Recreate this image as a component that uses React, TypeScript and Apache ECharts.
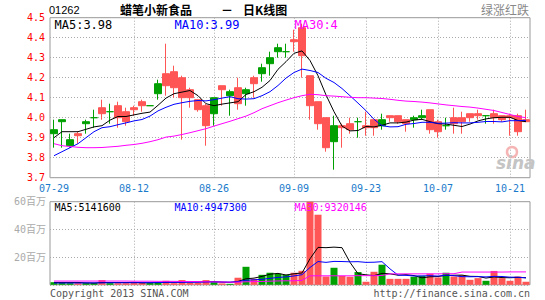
import React, { useEffect, useRef } from 'react';
import * as echarts from 'echarts';

const dates = [
  '07-29','07-30','07-31','08-01','08-02','08-05','08-06','08-07','08-08','08-09',
  '08-12','08-13','08-14','08-15','08-16','08-19','08-20','08-21','08-22','08-23',
  '08-26','08-27','08-28','08-29','08-30','09-02','09-03','09-04','09-05','09-06',
  '09-09','09-10','09-11','09-12','09-13','09-16','09-17','09-18','09-19','09-23',
  '09-24','09-25','09-26','09-27','09-30','10-02','10-03','10-04','10-07','10-08',
  '10-09','10-10','10-11','10-15','10-16','10-17','10-18','10-21','10-22','10-23',
];
const labelDates = ['07-29', '08-12', '08-26', '09-09', '09-23', '10-07', '10-21'];
const gridDates = ['08-12', '08-26', '09-09', '09-23', '10-07', '10-21'];

const opens = [
  3.92,3.98,3.86,3.92,3.97,4.00,4.05,4.03,4.06,4.03,
  4.05,4.08,4.06,4.12,4.22,4.23,4.20,4.14,4.09,4.06,
  4.02,4.16,4.11,4.15,4.12,4.20,4.22,4.27,4.33,4.33,
  4.39,4.45,4.21,4.08,4.00,3.88,3.96,3.97,3.98,3.96,
  3.99,3.96,4.01,4.01,3.99,3.99,4.00,4.04,3.98,3.96,
  4.00,4.00,4.02,4.02,4.01,4.02,4.01,4.01,4.01,3.99,
];
const closes = [
  3.94,3.99,3.89,3.91,3.98,4.00,4.02,4.03,4.00,3.98,
  4.04,4.06,4.06,4.17,4.16,4.15,4.10,4.10,4.04,3.96,
  4.10,4.14,4.13,4.07,4.14,4.17,4.25,4.30,4.35,4.33,
  4.38,4.31,4.06,3.97,3.85,3.96,3.95,3.94,3.98,3.95,
  3.95,3.99,4.00,3.98,3.97,4.00,4.01,3.94,3.93,3.96,
  3.97,3.98,4.00,4.01,4.01,4.00,3.99,4.00,3.93,3.98,
];
const lows = [
  3.85,3.85,3.85,3.87,3.92,3.95,3.99,3.97,3.95,3.96,
  4.01,4.03,4.06,4.09,4.11,4.10,3.89,4.05,4.03,3.86,
  3.96,4.06,4.01,4.04,4.06,4.10,4.18,4.21,4.30,4.30,
  4.33,4.20,3.99,3.94,3.83,3.74,3.85,3.92,3.90,3.91,
  3.91,3.94,3.98,3.97,3.93,3.95,3.99,3.92,3.90,3.94,
  3.92,3.92,3.98,3.99,3.97,3.97,3.98,3.91,3.91,3.98,
];
const highs = [
  3.99,3.99,3.92,3.93,3.99,4.04,4.09,4.07,4.08,4.05,
  4.06,4.09,4.06,4.19,4.37,4.26,4.21,4.15,4.09,4.07,
  4.10,4.16,4.14,4.20,4.15,4.21,4.27,4.33,4.37,4.37,
  4.44,4.47,4.21,4.08,4.00,4.01,3.97,4.00,4.00,4.03,
  3.99,4.02,4.01,4.01,3.99,4.01,4.04,4.04,3.99,4.00,
  4.05,4.03,4.02,4.04,4.01,4.04,4.01,4.02,4.02,4.04,
];
const ma5 = [
  3.90,3.93,3.93,3.93,3.942,3.954,3.96,3.988,4.006,4.006,
  4.014,4.022,4.028,4.062,4.098,4.12,4.128,4.136,4.11,4.07,
  4.06,4.068,4.074,4.08,4.116,4.13,4.152,4.186,4.242,4.28,
  4.322,4.334,4.286,4.21,4.114,4.03,3.958,3.934,3.936,3.956,
  3.954,3.962,3.974,3.974,3.978,3.988,3.992,3.98,3.97,3.968,
  3.962,3.956,3.968,3.984,3.994,4.0,4.002,4.002,3.986,3.98,
];
const ma10 = [
  3.81,3.83,3.85,3.87,3.90,3.93,3.95,3.955,3.965,3.974,
  3.984,3.991,4.008,4.034,4.052,4.067,4.075,4.082,4.086,4.084,
  4.09,4.098,4.105,4.095,4.093,4.095,4.11,4.13,4.161,4.198,
  4.226,4.243,4.236,4.226,4.197,4.176,4.146,4.11,4.073,4.035,
  3.992,3.96,3.954,3.955,3.967,3.971,3.977,3.977,3.972,3.973,
  3.975,3.974,3.974,3.977,3.981,3.981,3.979,3.985,3.985,3.987,
];
const ma30 = [
  3.87,3.86,3.856,3.852,3.85,3.85,3.851,3.854,3.857,3.862,
  3.866,3.872,3.88,3.89,3.903,3.908,3.916,3.925,3.935,3.945,
  3.958,3.97,3.982,3.995,4.008,4.025,4.045,4.06,4.075,4.088,
  4.10,4.11,4.117,4.115,4.11,4.108,4.105,4.102,4.10,4.10,
  4.098,4.096,4.092,4.087,4.083,4.081,4.078,4.074,4.069,4.064,
  4.06,4.056,4.053,4.048,4.042,4.036,4.026,4.016,4.006,4.0,
];

// volumes in millions
const volumes = [
  1.9,1.4,1.2,1.2,1.2,1.2,3.4,1.2,1.2,1.2,
  1.9,1.7,1.2,1.9,2.9,1.2,3.4,1.7,1.4,3.4,
  1.9,1.0,0.7,5.1,13.0,4.3,7.2,8.7,8.0,7.2,
  8.7,10.1,60,50.6,6.0,12.3,6.5,5.8,9.2,2.2,
  9.4,14.5,4.3,4.3,4.3,5.8,6.5,8.0,5.3,8.7,
  6.0,7.0,3.6,4.8,2.9,10.0,4.8,2.9,6.0,2.2,
];
const volMa5 = [
  1.7,1.7,1.7,1.7,1.38,1.24,1.64,1.64,1.64,1.64,
  1.78,1.44,1.44,1.58,1.92,1.78,2.12,2.22,2.12,2.22,
  2.36,1.88,1.68,2.42,4.34,4.82,6.06,7.66,8.24,7.08,
  7.96,8.54,18.8,27.0,26.8,27.2,26.8,16.2,8.0,7.2,
  6.62,8.22,7.92,6.94,7.36,6.64,5.04,5.78,5.98,6.86,
  6.9,7.0,6.12,6.02,4.86,5.66,5.22,5.08,5.32,5.14,
];
const volMa10 = [
  1.3,1.3,1.3,1.3,1.4,1.4,1.4,1.5,1.5,1.51,
  1.51,1.54,1.54,1.61,1.78,1.78,1.78,1.83,1.85,2.07,
  2.07,2.0,1.95,2.27,3.28,3.59,3.97,4.67,5.33,5.71,
  6.39,7.3,12.5,16.8,16.2,16.9,16.8,16.6,16.7,16.2,
  16.3,16.7,11.5,7.0,6.8,6.4,6.4,6.6,6.3,6.9,
  6.6,5.9,5.8,5.9,5.7,6.1,6.0,5.5,5.5,4.95,
];
const volMa30 = [
  2.7,2.7,2.7,2.7,2.7,2.7,2.7,2.7,2.7,2.7,
  2.6,2.6,2.6,2.5,2.5,2.5,2.4,2.4,2.3,2.2,
  2.1,2.0,1.9,1.9,2.2,2.3,2.4,2.6,2.8,2.9,
  2.9,3.2,6.5,6.5,6.5,6.5,6.5,6.5,6.6,6.6,
  6.6,6.7,7.9,7.9,7.9,7.9,7.9,7.9,7.9,8.0,
  8.0,9.2,9.2,9.2,9.2,9.2,9.2,9.3,9.3,9.32,
];

const stockCode = '01262';
const stockName = '蜡笔小新食品';
const chartKind = '日K线图';
const colorNote = '绿涨红跌';
const priceLegend = ['MA5:3.98', 'MA10:3.99', 'MA30:4'];
const volLegend = ['MA5:5141600', 'MA10:4947300', 'MA30:9320146'];

const UP = '#00a000';
const DOWN = '#ff5555';
const MONO = '"DejaVu Sans Mono", "Noto Sans CJK SC", monospace';
const CJK = '"Noto Sans CJK SC", sans-serif';

export default function App() {
  const ref = useRef<HTMLDivElement>(null);
  useEffect(() => {
    if (!ref.current) return;
    const chart = echarts.init(ref.current, undefined, { renderer: 'svg' });
    const splitX = {
      show: true,
      interval: (_i: number, v: string) => gridDates.includes(v),
      alignWithLabel: true,
      lineStyle: { color: '#aaa', type: [1, 2], width: 1 },
    };
    const lineS = (data: number[], color: string, xi: number) => ({
      type: 'line',
      xAxisIndex: xi,
      yAxisIndex: xi,
      data,
      symbol: 'none',
      showSymbol: false,
      silent: true,
      lineStyle: { color, width: 1 },
      z: 4,
    });
    const option: any = {
      animation: false,
      backgroundColor: '#fff',
      grid: [
        { left: 50, top: 17.7, width: 480, height: 160, show: true, borderColor: '#999', borderWidth: 1 },
        { left: 50, top: 201.7, width: 480, height: 83.1, show: true, borderColor: '#999', borderWidth: 1 },
      ],
      xAxis: [
        {
          type: 'category', gridIndex: 0, data: dates, boundaryGap: true,
          axisLine: { show: false }, axisTick: { show: false },
          axisLabel: {
            interval: (_i: number, v: string) => labelDates.includes(v),
            color: '#1a7acb', fontSize: 10, fontFamily: MONO, margin: 6,
          },
          splitLine: splitX,
        },
        {
          type: 'category', gridIndex: 1, data: dates, boundaryGap: true,
          axisLine: { show: false }, axisTick: { show: false }, axisLabel: { show: false },
          splitLine: splitX,
        },
      ],
      yAxis: [
        {
          type: 'value', gridIndex: 0, min: 3.7, max: 4.5, interval: 0.1,
          axisLine: { show: false }, axisTick: { show: false },
          axisLabel: { color: '#ff0000', fontSize: 10, fontFamily: MONO, margin: 5, formatter: (v: number) => v.toFixed(1) },
          splitLine: { lineStyle: { color: '#aaa', type: [1, 2], width: 1 } },
        },
        {
          type: 'value', gridIndex: 1, min: 0, max: 60, interval: 20,
          axisLine: { show: false }, axisTick: { show: false },
          axisLabel: { color: '#aaa', fontSize: 10, fontFamily: MONO, margin: 4, formatter: (v: number) => (v === 0 ? '' : v + '百万') },
          splitLine: { lineStyle: { color: '#aaa', type: [1, 2], width: 1 } },
        },
      ],
      series: [
        {
          type: 'candlestick', xAxisIndex: 0, yAxisIndex: 0, silent: true,
          data: dates.map((_, i) => [opens[i], closes[i], lows[i], highs[i]]),
          barWidth: 7,
          itemStyle: { color: UP, color0: DOWN, borderColor: UP, borderColor0: DOWN, borderColorDoji: UP, borderWidth: 1 },
          z: 2,
        },
        lineS(ma5, '#000000', 0),
        lineS(ma10, '#0000ff', 0),
        lineS(ma30, '#ff00ff', 0),
        {
          type: 'bar', xAxisIndex: 1, yAxisIndex: 1, silent: true, barWidth: 7,
          data: volumes.map((v, i) => ({ value: v, itemStyle: { color: closes[i] >= opens[i] ? UP : DOWN } })),
          z: 2,
        },
        lineS(volMa5, '#000000', 1),
        lineS(volMa10, '#0000ff', 1),
        lineS(volMa30, '#ff00ff', 1),
      ],
      graphic: [
        { type: 'text', x: 49, y: 9.5, z: 100, style: { text: stockCode, fill: '#000', font: '11px "Liberation Sans"', verticalAlign: 'middle' } },
        { type: 'text', x: 120, y: 9.5, z: 100, style: { text: stockName, fill: '#000', font: `bold 12px ${CJK}`, verticalAlign: 'middle' } },
        { type: 'text', x: 221, y: 9.5, z: 100, style: { text: '－', fill: '#000', font: `bold 12px ${CJK}`, verticalAlign: 'middle' } },
        { type: 'text', x: 243, y: 9.5, z: 100, style: { text: chartKind, fill: '#000', font: `bold 12px ${CJK}`, verticalAlign: 'middle' } },
        { type: 'text', x: 529, y: 9.5, z: 100, style: { text: colorNote, fill: '#888', font: `12px ${CJK}`, align: 'right', verticalAlign: 'middle' } },
        { type: 'text', x: 54.5, y: 25, z: 100, style: { text: priceLegend[0], fill: '#000', font: `12px ${MONO}`, verticalAlign: 'middle' } },
        { type: 'text', x: 174.5, y: 25, z: 100, style: { text: priceLegend[1], fill: '#0000ff', font: `12px ${MONO}`, verticalAlign: 'middle' } },
        { type: 'text', x: 294.5, y: 25, z: 100, style: { text: priceLegend[2], fill: '#ff00ff', font: `12px ${MONO}`, verticalAlign: 'middle' } },
        { type: 'text', x: 54.5, y: 207, z: 100, style: { text: volLegend[0], fill: '#000', font: `10px ${MONO}`, verticalAlign: 'middle' } },
        { type: 'text', x: 174.5, y: 207, z: 100, style: { text: volLegend[1], fill: '#0000ff', font: `10px ${MONO}`, verticalAlign: 'middle' } },
        { type: 'text', x: 294.5, y: 207, z: 100, style: { text: volLegend[2], fill: '#ff00ff', font: `10px ${MONO}`, verticalAlign: 'middle' } },
        { type: 'text', x: 50, y: 293, z: 100, style: { text: 'Copyright 2013 SINA.COM', fill: '#555', font: `10px ${MONO}`, verticalAlign: 'middle' } },
        { type: 'text', x: 530, y: 293, z: 100, style: { text: 'http://finance.sina.com.cn', fill: '#555', font: `10px ${MONO}`, align: 'right', verticalAlign: 'middle' } },
        { type: 'circle', z: 1, shape: { cx: 512, cy: 152, r: 5 }, style: { fill: 'none', stroke: '#f5b5b5', lineWidth: 2.5 } },
        { type: 'text', x: 496, y: 163, z: 1, style: { text: 'sina', fill: '#c4c4c4', font: 'italic bold 17px "DejaVu Sans"', verticalAlign: 'middle' } },
      ],
    };
    chart.setOption(option);
    return () => chart.dispose();
  }, []);
  return <div ref={ref} style={{ position: 'fixed', left: 0, top: 0, width: 545, height: 300 }} />;
}
